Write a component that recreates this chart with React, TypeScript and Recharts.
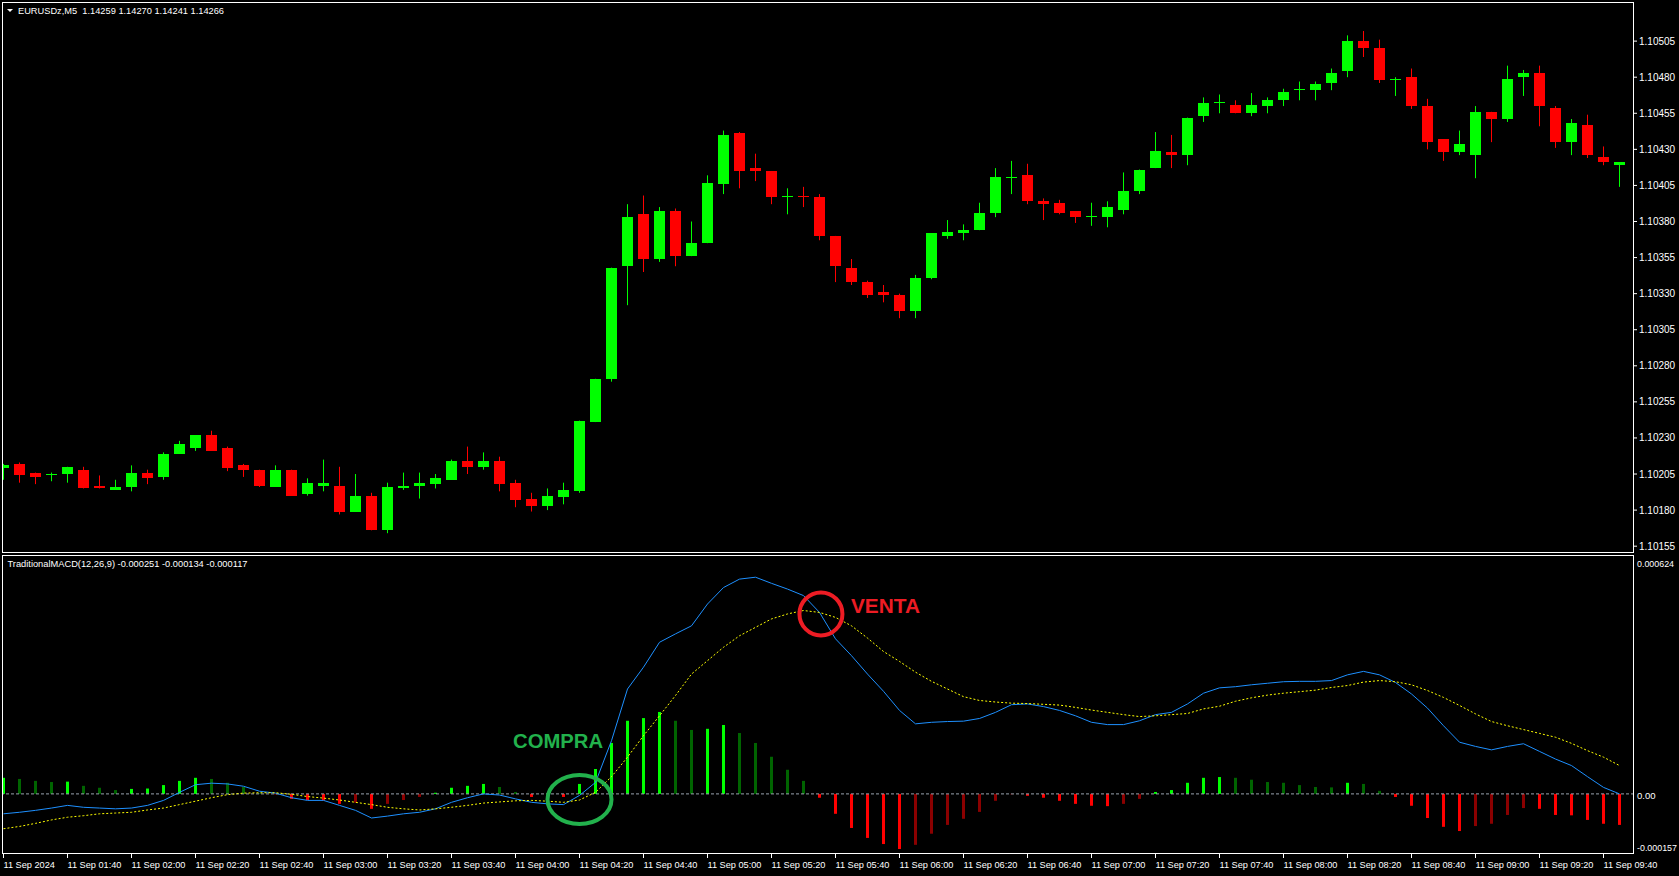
import React from "react";
import { ComposedChart, Bar, Line, XAxis, YAxis, ReferenceLine, ReferenceDot } from "recharts";

// EURUSDz M5, 11 Sep 2024 01:20 .. 09:45 (102 bars)
const opens = [
  1.10209, 1.10212, 1.10206, 1.10204, 1.10205, 1.10208, 1.10197, 1.10194, 1.10196, 1.10206,
  1.10203, 1.10219, 1.10223, 1.10232, 1.10223, 1.10211, 1.10208, 1.10196, 1.10208, 1.10191,
  1.10197, 1.10197, 1.10179, 1.1019, 1.10166, 1.10195, 1.10197, 1.10198, 1.10201, 1.10214,
  1.1021, 1.10214, 1.10199, 1.10188, 1.10183, 1.10189, 1.10193, 1.10241, 1.10271, 1.10349,
  1.10385, 1.10354, 1.10387, 1.10356, 1.10365, 1.10406, 1.10441, 1.10417, 1.10415, 1.10397,
  1.10398, 1.10397, 1.1037, 1.10348, 1.10338, 1.10331, 1.10329, 1.10318, 1.10341, 1.1037,
  1.10372, 1.10374, 1.10386, 1.1041, 1.10412, 1.10394, 1.10393, 1.10387, 1.10383, 1.10383,
  1.10388, 1.10401, 1.10417, 1.10428, 1.10426, 1.10453, 1.10462, 1.10461, 1.10455, 1.1046,
  1.10464, 1.10471, 1.10471, 1.10476, 1.10484, 1.10505, 1.105, 1.10478, 1.1048, 1.1046,
  1.10437, 1.10428, 1.10426, 1.10456, 1.10451, 1.1048, 1.10483, 1.10459, 1.10435, 1.10447,
  1.10425, 1.10419,
];
const highs = [
  1.10212, 1.10213, 1.10206, 1.10206, 1.1021, 1.1021, 1.10204, 1.10201, 1.10211, 1.10208,
  1.1022, 1.10228, 1.10232, 1.10235, 1.10224, 1.10212, 1.10208, 1.10211, 1.10208, 1.10202,
  1.10215, 1.1021, 1.10205, 1.10192, 1.10199, 1.10206, 1.10206, 1.10205, 1.10215, 1.10224,
  1.1022, 1.10217, 1.10201, 1.10192, 1.10195, 1.10199, 1.10242, 1.10271, 1.10348, 1.10392,
  1.10398, 1.1039, 1.10389, 1.1038, 1.10412, 1.10443, 1.10442, 1.10427, 1.10415, 1.10403,
  1.10404, 1.10399, 1.1037, 1.10354, 1.10339, 1.10336, 1.1033, 1.10343, 1.10372, 1.10381,
  1.10378, 1.10393, 1.10417, 1.10422, 1.1042, 1.10396, 1.10395, 1.10387, 1.10393, 1.10394,
  1.10414, 1.10416, 1.10442, 1.1044, 1.10452, 1.10466, 1.10468, 1.10464, 1.10469, 1.10466,
  1.10472, 1.10477, 1.10477, 1.10486, 1.10509, 1.10512, 1.10506, 1.1048, 1.10486, 1.10465,
  1.10437, 1.10443, 1.1046, 1.10456, 1.10488, 1.10485, 1.10488, 1.1046, 1.10451, 1.10454,
  1.10432, 1.10421,
];
const lows = [
  1.10201, 1.10199, 1.10198, 1.102, 1.10199, 1.10195, 1.10195, 1.10194, 1.10193, 1.10198,
  1.10201, 1.10219, 1.10221, 1.10221, 1.10207, 1.10203, 1.10196, 1.10196, 1.1019, 1.1019,
  1.10193, 1.10177, 1.10179, 1.10166, 1.10164, 1.10194, 1.10188, 1.10195, 1.10201, 1.10205,
  1.10208, 1.10193, 1.10182, 1.10179, 1.1018, 1.10184, 1.10192, 1.10241, 1.10269, 1.10322,
  1.10345, 1.10352, 1.10349, 1.10356, 1.10365, 1.10399, 1.10403, 1.10408, 1.10392, 1.10385,
  1.1039, 1.10367, 1.10338, 1.10336, 1.10327, 1.10324, 1.10313, 1.10313, 1.1034, 1.10368,
  1.10367, 1.10374, 1.10383, 1.10399, 1.10392, 1.10381, 1.10385, 1.10379, 1.10377, 1.10376,
  1.10385, 1.10399, 1.10417, 1.10417, 1.10419, 1.10449, 1.10455, 1.10455, 1.10453, 1.10455,
  1.1046, 1.10464, 1.10464, 1.10471, 1.1048, 1.10494, 1.10476, 1.10467, 1.10458, 1.1043,
  1.10422, 1.10426, 1.1041, 1.10435, 1.10449, 1.10467, 1.10446, 1.10431, 1.10426, 1.10424,
  1.10419, 1.10404,
];
const closes = [
  1.10211, 1.10204, 1.10203, 1.10205, 1.1021, 1.10195, 1.10195, 1.10196, 1.10206, 1.10202,
  1.10219, 1.10226, 1.10232, 1.10221, 1.10209, 1.10208, 1.10197, 1.10208, 1.1019, 1.10199,
  1.10199, 1.10179, 1.1019, 1.10166, 1.10196, 1.10197, 1.10199, 1.10202, 1.10214, 1.1021,
  1.10214, 1.10198, 1.10187, 1.10183, 1.1019, 1.10194, 1.10242, 1.10271, 1.10348, 1.10383,
  1.10354, 1.10387, 1.10356, 1.10365, 1.10407, 1.1044, 1.10415, 1.10415, 1.10397, 1.10398,
  1.10397, 1.1037, 1.10349, 1.10338, 1.10329, 1.10329, 1.10318, 1.10341, 1.10372, 1.10373,
  1.10374, 1.10386, 1.10411, 1.10411, 1.10394, 1.10392, 1.10386, 1.10383, 1.10384, 1.1039,
  1.10401, 1.10416, 1.10429, 1.10426, 1.10452, 1.10462, 1.10463, 1.10455, 1.10461, 1.10464,
  1.1047, 1.10472, 1.10475, 1.10483, 1.10505, 1.105, 1.10478, 1.10479, 1.1046, 1.10435,
  1.10428, 1.10434, 1.10456, 1.10451, 1.10479, 1.10483, 1.1046, 1.10435, 1.10448, 1.10426,
  1.10421, 1.10421,
];

// TraditionalMACD(12,26,9)
const macdLine = [
  -0.000052, -0.000048, -0.000043, -0.000037, -0.00003, -0.000035, -0.000037, -0.000039, -0.000037, -0.00003,
  -0.000017, 0.000004, 0.000024, 0.000028, 0.000026, 0.00002, 0.000007, 0.000002, -0.00001, -0.000017,
  -0.000017, -0.00003, -0.000043, -0.000063, -0.000058, -0.000052, -0.000048, -0.000039, -0.000022, -0.00001,
  0, -0.000003, -0.000013, -0.000022, -0.000026, -0.000028, -0.000004, 0.00003, 0.000139, 0.000274,
  0.000331, 0.000396, 0.000418, 0.000439, 0.000496, 0.000539, 0.000561, 0.000566, 0.00055, 0.000535,
  0.000518, 0.000474, 0.000405, 0.000361, 0.000313, 0.000268, 0.000218, 0.000183, 0.000187, 0.000189,
  0.00019, 0.000197, 0.000213, 0.000233, 0.000235, 0.000228, 0.000218, 0.000204, 0.000187, 0.000181,
  0.000181, 0.000191, 0.000207, 0.000213, 0.000235, 0.000263, 0.000277, 0.00028, 0.000285, 0.000289,
  0.000293, 0.000294, 0.000294, 0.000296, 0.000311, 0.00032, 0.000311, 0.000291, 0.000261, 0.000224,
  0.000178, 0.000135, 0.000124, 0.000115, 0.000124, 0.000131, 0.000111, 0.000091, 0.000074, 0.000045,
  0.000017, 0,
];
const signalLine = [
  -0.000091, -0.000085, -0.000077, -0.000068, -0.000061, -0.000057, -0.000052, -0.00005, -0.000048, -0.000042,
  -0.000037, -0.000028, -0.000019, -0.00001, -0.000002, 0.000002, 0.000003, 0.000003, -0.000001, -0.000007,
  -0.000011, -0.000016, -0.000022, -0.000028, -0.000035, -0.000039, -0.000042, -0.000039, -0.000035, -0.00003,
  -0.000024, -0.000021, -0.000018, -0.000017, -0.000019, -0.000022, -0.000016, 0.000004, 0.000045, 0.000096,
  0.000152, 0.000204, 0.000257, 0.000313, 0.000348, 0.000383, 0.000413, 0.000435, 0.000457, 0.00047,
  0.000479, 0.000474, 0.000461, 0.000439, 0.000407, 0.000372, 0.000346, 0.000318, 0.000294, 0.000274,
  0.000254, 0.000244, 0.00024, 0.000237, 0.000236, 0.000234, 0.000232, 0.000226, 0.000219, 0.000213,
  0.000207, 0.000202, 0.000204, 0.000207, 0.00021, 0.000222, 0.000229, 0.000242, 0.000251, 0.000258,
  0.000263, 0.000267, 0.000271, 0.000278, 0.000283, 0.000292, 0.000296, 0.000293, 0.000285, 0.00027,
  0.000252, 0.000231, 0.000209, 0.000189, 0.000178, 0.000168, 0.000158, 0.000148, 0.000132, 0.000113,
  0.000096, 0.000074,
];
const histogram = [
  0.000042, 0.000039, 0.000034, 0.000031, 0.000032, 0.000021, 0.000016, 0.00001, 0.000013, 0.000014,
  0.000023, 0.000034, 0.000042, 0.000039, 0.000029, 0.000018, 0.000002, -0.000001, -0.000013, -0.000016,
  -0.000017, -0.000026, -0.000023, -0.000039, -0.000026, -0.000016, -0.000008, 0.000003, 0.000016, 0.000021,
  0.000026, 0.000018, 0.000005, -0.000008, -0.000002, -0.000008, 0.000026, 0.000065, 0.000133, 0.000191,
  0.000198, 0.000214, 0.000191, 0.000167, 0.00017, 0.00018, 0.000159, 0.000133, 0.000097, 0.000063,
  0.000034, -0.00001, -0.000052, -0.000089, -0.000115, -0.000131, -0.000144, -0.000133, -0.000104, -0.000081,
  -0.000065, -0.000047, -0.000018, -0.000001, -0.000005, -0.00001, -0.000018, -0.000026, -0.000031, -0.000032,
  -0.000026, -0.000013, 0.000005, 0.00001, 0.000029, 0.000042, 0.000044, 0.000042, 0.000037, 0.000031,
  0.000029, 0.000023, 0.000018, 0.000017, 0.000029, 0.000026, 0.000008, -0.000008, -0.000031, -0.000063,
  -0.000086, -0.000097, -0.000084, -0.000078, -0.000055, -0.000037, -0.000039, -0.000055, -0.000056, -0.000068,
  -0.000078, -0.000081,
];

const timeLabels = [
  "11 Sep 2024", "11 Sep 01:40", "11 Sep 02:00", "11 Sep 02:20", "11 Sep 02:40", "11 Sep 03:00",
  "11 Sep 03:20", "11 Sep 03:40", "11 Sep 04:00", "11 Sep 04:20", "11 Sep 04:40", "11 Sep 05:00",
  "11 Sep 05:20", "11 Sep 05:40", "11 Sep 06:00", "11 Sep 06:20", "11 Sep 06:40", "11 Sep 07:00",
  "11 Sep 07:20", "11 Sep 07:40", "11 Sep 08:00", "11 Sep 08:20", "11 Sep 08:40", "11 Sep 09:00",
  "11 Sep 09:20", "11 Sep 09:40",
];
const priceTicks = [
  1.10155, 1.1018, 1.10205, 1.1023, 1.10255, 1.1028, 1.10305, 1.1033, 1.10355, 1.1038,
  1.10405, 1.1043, 1.10455, 1.1048, 1.10505,
];
const macdTicks = [-0.000157, 0, 0.000624];

const FONT = "'Liberation Sans', Arial, sans-serif";
const X_DOMAIN: [number, number] = [-0.09375, 101.90625];
const BARS_PER_LABEL = 4;

const candles = opens.map((o, i) => ({ i, open: o, high: highs[i], low: lows[i], close: closes[i] }));
const macdData = macdLine.map((m, i) => ({ i, macd: m, signal: signalLine[i], hist: histogram[i] }));
const timeTicks = timeLabels.map((_, k) => k * BARS_PER_LABEL);

// MT4-style colouring: bright when the histogram grows away from zero
const histColors = histogram.map((h, i) => {
  const prev = i > 0 ? histogram[i - 1] : 0;
  if (h >= 0) return h > prev || i === 0 ? "#00FF00" : "#006400";
  return h < prev ? "#FF0000" : "#8B0000";
});

const Candle = (props: any) => {
  const { x, y, width, height, payload } = props;
  if (x == null || y == null || !payload) return null;
  const top = Math.min(y, y + height);
  const h = Math.abs(height);
  const { open, high, low, close } = payload;
  const k = high === low ? 0 : h / (high - low);
  const cx = x + width / 2;
  const yO = top + (high - open) * k;
  const yC = top + (high - close) * k;
  const color = close >= open ? "#00FF00" : "#FF0000";
  const bTop = Math.round(Math.min(yO, yC));
  const bBot = Math.round(Math.max(yO, yC));
  return (
    <g>
      <line x1={cx} x2={cx} y1={top} y2={top + h} stroke={color} strokeWidth={1} />
      <rect x={cx - 5.5} y={bTop} width={11} height={Math.max(1, bBot - bTop)} fill={color} />
    </g>
  );
};

const HistBar = (props: any) => {
  const { x, y, width, height, payload } = props;
  if (x == null || y == null || !payload) return null;
  const top = Math.min(y, y + height);
  const cx = x + width / 2;
  return <rect x={cx - 1.5} y={top} width={3} height={Math.abs(height)} fill={histColors[payload.i]} />;
};

const TimeTick = (props: any) => {
  const { x, y, payload } = props;
  return (
    <text x={x} y={y + 8} fill="#fff" fontSize={9.2} fontFamily={FONT}>
      {timeLabels[Math.round(payload.value / BARS_PER_LABEL)]}
    </text>
  );
};

const MacdTick = (props: any) => {
  const { x, y, payload } = props;
  const v = payload.value;
  if (v === 0) {
    return (
      <text x={x} y={y + 5} fill="#fff" fontSize={9.5} fontFamily={FONT}>0.00</text>
    );
  }
  const top = v > 0;
  return (
    <text x={x} y={y + (top ? 12 : -2.7)} fill="#fff" fontSize={9.5} fontFamily={FONT}
      textLength={top ? 37 : 40} lengthAdjust="spacingAndGlyphs">
      {v.toFixed(6)}
    </text>
  );
};

const CompraMark = (p: any) => (
  <g>
    <ellipse cx={p.cx} cy={p.cy} rx={32} ry={24.5} fill="none" stroke="#22B14C" strokeWidth={4} />
    <text x={p.cx - 66.4} y={p.cy - 51.7} fill="#22B14C" fontSize={20} fontWeight="bold" fontFamily={FONT}
      textLength={90} lengthAdjust="spacingAndGlyphs">COMPRA</text>
  </g>
);

const VentaMark = (p: any) => (
  <g>
    <circle cx={p.cx} cy={p.cy} r={21.5} fill="none" stroke="#ED1C24" strokeWidth={4} />
    <text x={p.cx + 30} y={p.cy - 0.7} fill="#ED1C24" fontSize={21} fontWeight="bold" fontFamily={FONT}
      textLength={69} lengthAdjust="spacingAndGlyphs">VENTA</text>
  </g>
);

export default function App() {
  return (
    <div style={{ position: "absolute", left: 0, top: 0, width: 1679, height: 876, background: "#000", overflow: "hidden" }}>
      <div style={{ position: "absolute", left: 0, top: 0 }}>
        <ComposedChart width={1679} height={556} data={candles} margin={{ top: 3, right: 0, bottom: 3, left: 2 }}>
          <XAxis dataKey="i" type="number" domain={X_DOMAIN} allowDataOverflow hide />
          <YAxis
            orientation="right"
            width={45}
            domain={[1.1015027, 1.1053142]}
            allowDataOverflow
            ticks={priceTicks}
            interval={0}
            tickFormatter={(v: number) => v.toFixed(5)}
            axisLine={false}
            tickLine={{ stroke: "#fff" }}
            tickSize={3}
            tickMargin={2}
            tick={{ fill: "#fff", fontSize: 10, fontFamily: FONT }}
          />
          <Bar
            dataKey={(d: any) => [d.low, d.high]}
            barSize={12}
            shape={(p: any) => <Candle {...p} />}
            isAnimationActive={false}
          />
        </ComposedChart>
      </div>

      <div style={{ position: "absolute", left: 0, top: 553 }}>
        <ComposedChart width={1679} height={323} data={macdData} margin={{ top: 2, right: 0, bottom: 0, left: 2 }}>
          <XAxis
            dataKey="i"
            type="number"
            domain={X_DOMAIN}
            allowDataOverflow
            ticks={timeTicks}
            interval={0}
            height={22}
            axisLine={false}
            tickLine={{ stroke: "#fff" }}
            tickSize={4}
            tickMargin={2}
            tick={(p: any) => <TimeTick {...p} />}
          />
          <YAxis
            orientation="right"
            width={45}
            domain={[-0.000157, 0.000624]}
            allowDataOverflow
            ticks={macdTicks}
            interval={0}
            axisLine={false}
            tickLine={false}
            tickSize={0}
            tickMargin={3}
            tick={(p: any) => <MacdTick {...p} />}
          />
          <Bar dataKey="hist" barSize={4} shape={(p: any) => <HistBar {...p} />} isAnimationActive={false} />
          <ReferenceLine y={0} stroke="#9AA3AE" strokeDasharray="3 2" />
          <Line type="linear" dataKey="macd" stroke="#1E90FF" strokeWidth={1} dot={false} activeDot={false} isAnimationActive={false} />
          <Line type="linear" dataKey="signal" stroke="#FFFF00" strokeWidth={1} strokeDasharray="2 2" dot={false} activeDot={false} isAnimationActive={false} />
          <ReferenceDot x={36} y={-0.0000146} r={0} shape={(p: any) => <CompraMark {...p} />} />
          <ReferenceDot x={51.09} y={0.00047} r={0} shape={(p: any) => <VentaMark {...p} />} />
        </ComposedChart>
      </div>

      <svg width={1679} height={876} style={{ position: "absolute", left: 0, top: 0, pointerEvents: "none" }}>
        <rect x={2.5} y={2.5} width={1631} height={550} fill="none" stroke="#fff" />
        <rect x={2.5} y={555.5} width={1631} height={298} fill="none" stroke="#fff" />
        <polygon points="7,9 13,9 10,12" fill="#fff" />
        <text x={18} y={14} fill="#fff" fontSize={9.5} fontFamily={FONT} textLength={206}
          lengthAdjust="spacingAndGlyphs" style={{ whiteSpace: "pre" }}>
          EURUSDz,M5  1.14259 1.14270 1.14241 1.14266
        </text>
        <text x={7.5} y={567} fill="#fff" fontSize={9.5} fontFamily={FONT} textLength={240}
          lengthAdjust="spacingAndGlyphs">
          TraditionalMACD(12,26,9) -0.000251 -0.000134 -0.000117
        </text>
      </svg>
    </div>
  );
}
